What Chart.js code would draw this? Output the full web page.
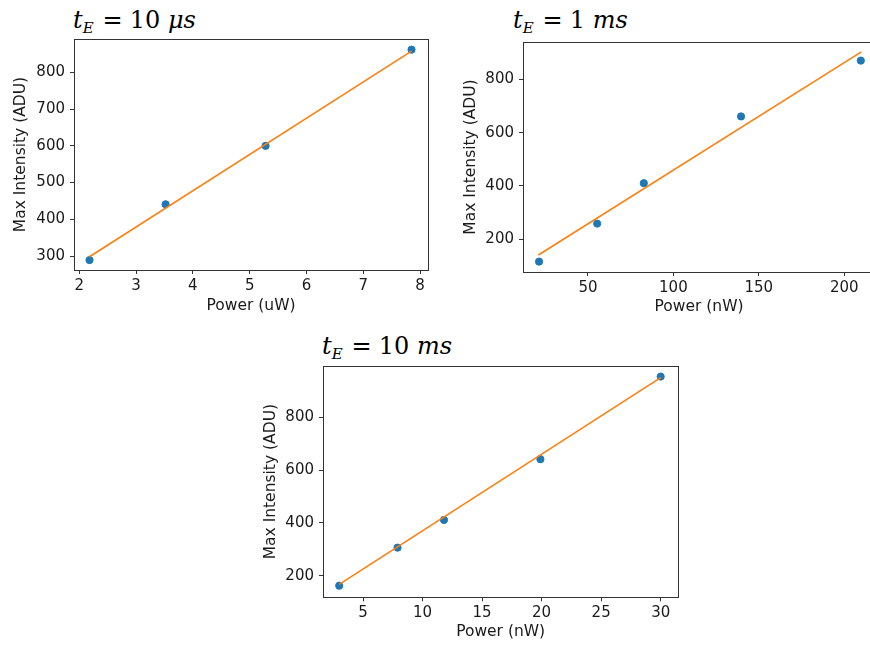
<!DOCTYPE html>
<html>
<head>
<meta charset="utf-8">
<script src="https://cdn.jsdelivr.net/npm/chart.js@4.4.0/dist/chart.umd.min.js"></script>
<style>
body { margin:0; width:870px; height:646px; overflow:hidden; background:#fff; position:relative; }
.box { position:absolute; }
.ttl { position:absolute; font-family:"DejaVu Serif", serif; font-size:24px; line-height:24px; color:#000; white-space:nowrap; }
.ttl sub { font-size:15px; vertical-align:-5px; line-height:0; }
.eq { margin:0 7px 0 9px; }
</style>
</head>
<body>
<div class="ttl" style="left:73px;top:8px"><i>t</i><sub><i>E</i></sub><span class="eq">=</span>10 <i>μs</i></div>
<div class="ttl" style="left:513px;top:8px"><i>t</i><sub><i>E</i></sub><span class="eq">=</span>1 <i>ms</i></div>
<div class="ttl" style="left:322px;top:334px"><i>t</i><sub><i>E</i></sub><span class="eq">=</span>10 <i>ms</i></div>

<div class="box" style="left:0;top:0;width:440px;height:320px"><canvas id="c1"></canvas></div>
<div class="box" style="left:440px;top:0;width:450px;height:320px"><canvas id="c2"></canvas></div>
<div class="box" style="left:240px;top:340px;width:450px;height:306px"><canvas id="c3"></canvas></div>

<script>
// t_E = 10 us
var power10us = [2.18, 3.52, 5.28, 7.85];
var intensity10us = [289, 441, 600, 862];
var fitX10us = [2.18, 7.85];
var fitY10us = [298, 858];

// t_E = 1 ms
var power1ms = [21.4, 55.4, 82.7, 139.6, 209.7];
var intensity1ms = [115, 258, 410, 661, 871];
var fitX1ms = [21, 210];
var fitY1ms = [140, 904];

// t_E = 10 ms
var power10ms = [3.0, 7.9, 11.8, 19.9, 30.0];
var intensity10ms = [162, 306, 411, 641, 954];
var fitX10ms = [3.0, 30.0];
var fitY10ms = [167, 950];

var tickFont = {family: 'DejaVu Sans', size: 15};
var titleFont = {family: 'DejaVu Sans', size: 15.5};

// box around the plot area, like matplotlib spines
var frame = {
    id: 'frame',
    afterDatasetsDraw: function(chart) {
        var a = chart.chartArea, c = chart.ctx;
        c.save();
        c.strokeStyle = '#333';
        c.lineWidth = 1;
        c.strokeRect(Math.round(a.left) + 0.5, Math.round(a.top) + 0.5,
            Math.round(a.right - a.left), Math.round(a.bottom - a.top));
        c.restore();
    }
};

function pts(xs, ys) {
    return xs.map(function(x, i) { return {x: x, y: ys[i]}; });
}

function makeChart(id, px, py, fx, fy, o) {
    var ctx = document.getElementById(id).getContext('2d');
    return new Chart(ctx, {
        type: 'scatter',
        data: {
            datasets: [{
                label: 'fit',
                data: pts(fx, fy),
                showLine: true,
                borderColor: '#ff7f0e',
                borderWidth: 1.6,
                pointRadius: 0,
                order: 0
            }, {
                label: 'data',
                data: pts(px, py),
                backgroundColor: '#1f77b4',
                borderColor: '#1f77b4',
                pointRadius: 3.6,
                order: 1
            }]
        },
        options: {
            responsive: true,
            maintainAspectRatio: false,
            animation: false,
            layout: { padding: {top: o.top, right: o.right, left: 0, bottom: 0} },
            plugins: { legend: {display: false}, tooltip: {enabled: false} },
            scales: {
                x: {
                    type: 'linear', min: o.xmin, max: o.xmax,
                    ticks: {stepSize: o.xstep, includeBounds: false, font: tickFont, color: '#1a1a1a', padding: 3, maxRotation: 0},
                    grid: {drawOnChartArea: false, tickLength: 4, color: '#333'},
                    border: {color: '#333'},
                    title: {display: true, text: o.xlabel, font: titleFont, color: '#1a1a1a', padding: {top: 0, bottom: o.xtp}},
                    afterFit: function(s) { s.height = o.xh; }
                },
                y: {
                    type: 'linear', min: o.ymin, max: o.ymax,
                    ticks: {stepSize: o.ystep, includeBounds: false, font: tickFont, color: '#1a1a1a', padding: 5},
                    grid: {drawOnChartArea: false, tickLength: 4, color: '#333'},
                    border: {color: '#333'},
                    title: {display: true, text: 'Max Intensity (ADU)', font: titleFont, color: '#1a1a1a', padding: {top: o.ytp, bottom: 0}},
                    afterFit: function(s) { s.width = o.yw; }
                }
            }
        },
        plugins: [frame]
    });
}

makeChart('c1', power10us, intensity10us, fitX10us, fitY10us, {
    top: 39, right: 12, yw: 74, xh: 50, ytp: 11.4, xtp: 4.7,
    xmin: 1.907, xmax: 8.14, xstep: 1, ymin: 262, ymax: 891, ystep: 100,
    xlabel: 'Power (uW)'
});
makeChart('c2', power1ms, intensity1ms, fitX1ms, fitY1ms, {
    top: 42, right: 15, yw: 83, xh: 48, ytp: 21.4, xtp: 4,
    xmin: 12, xmax: 218, xstep: 50, ymin: 76, ymax: 941, ystep: 200,
    xlabel: 'Power (nW)'
});
makeChart('c3', power10ms, intensity10ms, fitX10ms, fitY10ms, {
    top: 26, right: 11.7, yw: 83, xh: 48.7, ytp: 21.4, xtp: 4.4,
    xmin: 1.64, xmax: 31.48, xstep: 5, ymin: 118, ymax: 994, ystep: 200,
    xlabel: 'Power (nW)'
});
</script>
</body>
</html>
